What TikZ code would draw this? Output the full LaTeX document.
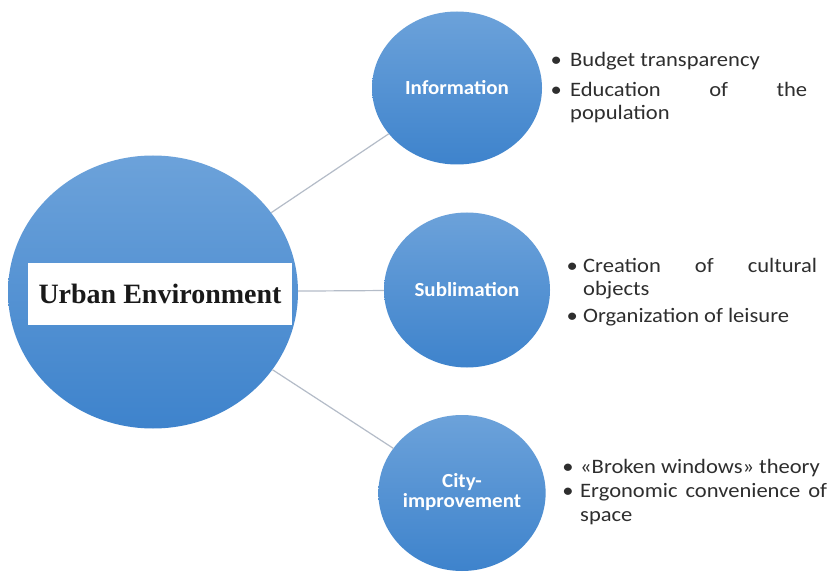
\documentclass[tikz,border=0pt]{standalone}
\usepackage{fontspec}
\usepackage{graphicx}
\usetikzlibrary{shapes.geometric}
\newfontfamily\calfont{Carlito}
\newfontfamily\serfont{Liberation Serif}
\definecolor{ctop}{HTML}{6CA2DA}
\definecolor{cbot}{HTML}{3E83CC}
\definecolor{linkc}{HTML}{B4BCC8}
\definecolor{txtc}{HTML}{2E2E2E}
\newcommand{\bul}[1]{\leavevmode\llap{\makebox[#1]{\textbullet}}}
\tikzset{
  bubble/.style={ellipse, top color=ctop, bottom color=cbot, draw=none, inner sep=0pt,
    text=white, font=\calfont\bfseries\fontsize{20}{19}\selectfont},
  link/.style={draw=linkc, line width=1.2pt},
  listtxt/.style={anchor=base west, inner sep=0pt, text=txtc,
    font=\calfont\fontsize{20.5}{23.5}\selectfont},
  titlebox/.style={fill=white, minimum width=264pt, minimum height=62pt, inner sep=0pt,
    text=black!90, font=\serfont\bfseries\fontsize{28}{30}\selectfont}
}
\begin{document}
\begin{tikzpicture}[x=1pt,y=-1pt]
\fill[white] (0,0) rectangle (835,572);
\useasboundingbox (0,0) rectangle (835,572);

\node[bubble, minimum width=290pt, minimum height=273pt] (env) at (153,292) {};
\node[bubble, minimum width=170pt, minimum height=153pt] (info) at (457,88)
  {\scalebox{1.05}[1]{Information}};
\node[bubble, minimum width=166pt, minimum height=155pt] (sub) at (467,290)
  {\scalebox{1.05}[1]{Sublimation}};
\node[bubble, minimum width=166pt, minimum height=156pt] (city) at (462,493)
  {\scalebox{1.05}[1]{\begin{tabular}{@{}c@{}}City-\\improvement\end{tabular}}};

\draw[link] (env) -- (info);
\draw[link] (env) -- (sub);
\draw[link] (env) -- (city);

\node[titlebox] (title) at (160,294) {Urban Environment};

\node[listtxt] (infolist) at (570,67) {\scalebox{1.1}[1]{\parbox[t]{215.5pt}{%
  \bul{25.5pt}Budget transparency\par\vspace{6pt}%
  \bul{25.5pt}\makebox[215.5pt][s]{Education of the}\par population}}};

\node[listtxt] (sublist) at (583,272) {\scalebox{1.1}[1]{\parbox[t]{212.7pt}{%
  \bul{20pt}\makebox[212.7pt][s]{Creation of cultural}\par objects\par\vspace{4pt}%
  \bul{20pt}Organization of leisure}}};

\node[listtxt] (citylist) at (580,473) {\scalebox{1.1}[1]{\parbox[t]{224.5pt}{%
  \bul{22pt}«Broken windows» theory\par\vspace{1pt}%
  \bul{22pt}\makebox[224.5pt][s]{Ergonomic convenience of}\par space}}};
\end{tikzpicture}
\end{document}
